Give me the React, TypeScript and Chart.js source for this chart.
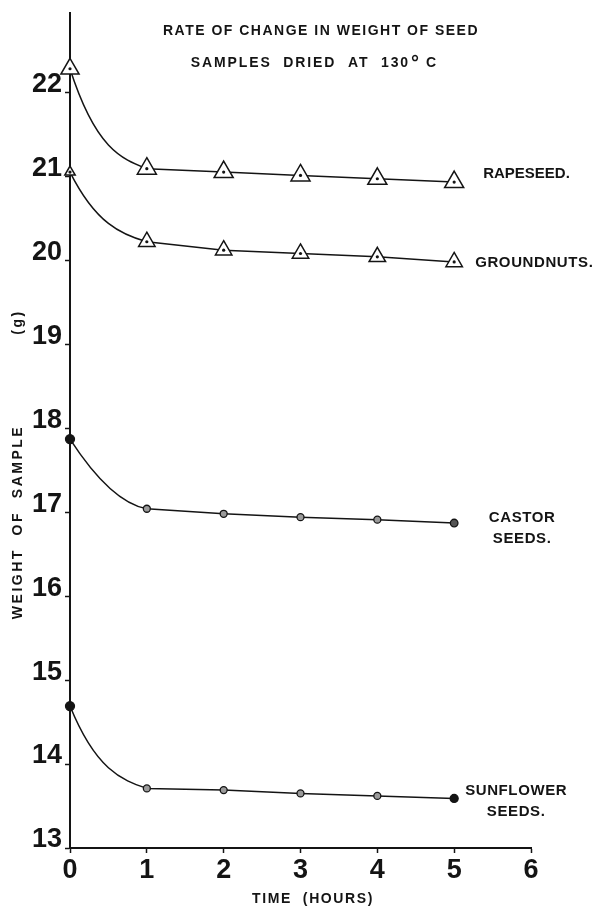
import React, { useEffect, useRef } from 'react';
import { Chart, registerables } from 'chart.js';

Chart.register(...registerables);

// ---- data ----
const hours = [0, 1, 2, 3, 4, 5];
const rapeseed = [22.28, 21.09, 21.05, 21.01, 20.97, 20.93];
const groundnuts = [21.05, 20.22, 20.12, 20.08, 20.04, 19.98];
const castorSeeds = [17.87, 17.04, 16.98, 16.94, 16.91, 16.87];
const sunflowerSeeds = [14.69, 13.71, 13.69, 13.65, 13.62, 13.59];

const xTickValues = [0, 1, 2, 3, 4, 5, 6];
const yTickValues = [13, 14, 15, 16, 17, 18, 19, 20, 21, 22];

const titleLine1 = 'RATE OF CHANGE IN WEIGHT OF SEED';
const titleLine2 = 'SAMPLES  DRIED  AT  130';
const titleDegree = '°';
const titleUnit = 'C';
const xAxisTitle = 'TIME  (HOURS)';
const yAxisTitle = 'WEIGHT  OF  SAMPLE';
const yAxisUnit = '(g)';

const seriesNames = ['RAPESEED.', 'GROUNDNUTS.', 'CASTOR\nSEEDS.', 'SUNFLOWER\nSEEDS.'];

const FONT = "'Liberation Sans', Arial, sans-serif";
const INK = '#141414';

const toPoints = (ys: number[]) => ys.map((y, i) => ({ x: hours[i], y }));

// Shapes the first (drying) segment as a decay curve, straight segments afterwards.
const decayCurvePlugin = {
  id: 'decayCurve',
  beforeDatasetsDraw(chart: any) {
    chart.data.datasets.forEach((ds: any, i: number) => {
      if (!ds.decay) return;
      const meta = chart.getDatasetMeta(i);
      const line = meta.dataset;
      if (!line || meta.hidden) return;
      line.updateControlPoints(chart.chartArea, meta.indexAxis);
      const pts = meta.data;
      pts.forEach((p: any) => {
        p.cp1x = p.x; p.cp1y = p.y; p.cp2x = p.x; p.cp2y = p.y;
      });
      if (pts.length > 1) {
        const [m0, m1] = ds.decay;
        const p0 = pts[0];
        const p1 = pts[1];
        const dx = p1.x - p0.x;
        const dy = p1.y - p0.y;
        p0.cp2x = p0.x + dx / 3;
        p0.cp2y = p0.y + (dy * m0) / 3;
        p1.cp1x = p1.x - dx / 3;
        p1.cp1y = p1.y - (dy * m1) / 3;
      }
      line._path = undefined;
    });
  },
};

// Title, series names and axis titles.
const textPlugin = {
  id: 'chartTexts',
  afterDraw(chart: any) {
    const ctx = chart.ctx as CanvasRenderingContext2D;
    ctx.save();
    ctx.fillStyle = INK;
    ctx.textBaseline = 'middle';

    // title
    ctx.font = `bold 14px ${FONT}`;
    (ctx as any).letterSpacing = '1.5px';
    ctx.textAlign = 'center';
    ctx.fillText(titleLine1, 321, 31);
    (ctx as any).letterSpacing = '1.9px';
    ctx.textAlign = 'right';
    ctx.fillText(titleLine2, 410, 63);
    ctx.textAlign = 'left';
    (ctx as any).letterSpacing = '0px';
    ctx.font = `bold 20px ${FONT}`;
    ctx.fillText(titleDegree, 411, 63);
    ctx.font = `bold 14px ${FONT}`;
    ctx.fillText(titleUnit, 426, 63);

    // series labels, placed next to the last point of each series
    const offsets = [
      { dx: 29, dy: -8, align: 'left', sp: '0px' },
      { dx: 21, dy: 1, align: 'left', sp: '0.6px' },
      { dx: 68, dy: -5, align: 'center', sp: '0.6px' },
      { dx: 62, dy: -8, align: 'center', sp: '0.6px' },
    ];
    const mainIdx = [1, 3, 4, 5];
    ctx.font = `bold 15px ${FONT}`;
    seriesNames.forEach((name, k) => {
      const meta = chart.getDatasetMeta(mainIdx[k]);
      const last = meta.data[meta.data.length - 1];
      if (!last) return;
      const o = offsets[k];
      (ctx as any).letterSpacing = o.sp;
      ctx.textAlign = o.align as CanvasTextAlign;
      name.split('\n').forEach((ln, j) => {
        ctx.fillText(ln, last.x + o.dx, last.y + o.dy + j * 21);
      });
    });

    // axis titles
    ctx.font = `bold 14px ${FONT}`;
    (ctx as any).letterSpacing = '1.6px';
    ctx.textAlign = 'center';
    ctx.fillText(xAxisTitle, 313, 899);

    (ctx as any).letterSpacing = '2.5px';
    ctx.translate(18, 0);
    ctx.rotate(-Math.PI / 2);
    ctx.fillText(yAxisTitle, -522, 0);
    ctx.fillText(yAxisUnit, -322, 0);
    ctx.restore();
  },
};

export default function App() {
  const canvasRef = useRef<HTMLCanvasElement | null>(null);

  useEffect(() => {
    if (!canvasRef.current) return;
    const triangleBase = {
      type: 'line' as const,
      borderColor: INK,
      borderWidth: 1.5,
      pointStyle: 'triangle',
      pointBackgroundColor: '#ffffff',
      pointBorderColor: INK,
      pointBorderWidth: 1.5,
      tension: 0.4,
      fill: false,
      clip: false as const,
      order: 1,
    };
    const dotBase = {
      type: 'line' as const,
      showLine: false,
      pointRadius: 1.6,
      pointBackgroundColor: INK,
      pointBorderWidth: 0,
      clip: false as const,
      order: 0,
    };
    const chart = new Chart(canvasRef.current, {
      type: 'line',
      data: {
        datasets: [
          { ...dotBase, label: 'rapeseed centres', data: toPoints(rapeseed) } as any,
          {
            ...triangleBase,
            label: 'Rapeseed',
            data: toPoints(rapeseed),
            pointRadius: [10.5, 11, 11, 11, 11, 11],
            decay: [2.4, 0.3],
          } as any,
          { ...dotBase, label: 'groundnut centres', data: toPoints(groundnuts) } as any,
          {
            ...triangleBase,
            label: 'Groundnuts',
            data: toPoints(groundnuts),
            pointRadius: [6, 9.5, 9.5, 9.5, 9.5, 9.5],
            decay: [2.2, 0.3],
          } as any,
          {
            type: 'line',
            label: 'Castor seeds',
            data: toPoints(castorSeeds),
            borderColor: INK,
            borderWidth: 1.5,
            pointStyle: 'circle',
            pointRadius: [4.5, 3.5, 3.5, 3.5, 3.5, 3.8],
            pointBackgroundColor: [INK, '#9a9a9a', '#9a9a9a', '#9a9a9a', '#9a9a9a', '#555'],
            pointBorderColor: INK,
            pointBorderWidth: 1.3,
            tension: 0.4,
            clip: false,
            order: 1,
            decay: [1.7, 0.2],
          } as any,
          {
            type: 'line',
            label: 'Sunflower seeds',
            data: toPoints(sunflowerSeeds),
            borderColor: INK,
            borderWidth: 1.5,
            pointStyle: 'circle',
            pointRadius: [4.5, 3.5, 3.5, 3.5, 3.5, 4],
            pointBackgroundColor: [INK, '#9a9a9a', '#9a9a9a', '#9a9a9a', '#9a9a9a', INK],
            pointBorderColor: INK,
            pointBorderWidth: 1.3,
            tension: 0.4,
            clip: false,
            order: 1,
            decay: [2.3, 0.3],
          } as any,
        ],
      },
      options: {
        animation: false,
        responsive: true,
        maintainAspectRatio: false,
        devicePixelRatio: 1,
        layout: { padding: { top: 8, right: 67, left: 0, bottom: 0 } },
        plugins: {
          legend: { display: false },
          tooltip: { enabled: false },
          title: { display: false },
        },
        scales: {
          x: {
            type: 'linear',
            min: 0,
            max: 6,
            afterBuildTicks: (s: any) => {
              s.ticks = xTickValues.map((v) => ({ value: v }));
            },
            afterFit: (s: any) => {
              s.height = 63;
              s.paddingLeft = 0;
              s.paddingRight = 0;
            },
            grid: {
              display: true,
              drawOnChartArea: false,
              drawTicks: true,
              tickLength: 5,
              tickColor: INK,
              tickWidth: 1.5,
            },
            border: { display: true, color: INK, width: 2 },
            ticks: {
              color: INK,
              font: { family: FONT, size: 27, weight: 'bold' },
              padding: 1,
              maxRotation: 0,
              autoSkip: false,
            },
          },
          y: {
            type: 'linear',
            min: 13,
            max: 22.95,
            afterBuildTicks: (s: any) => {
              s.ticks = yTickValues.map((v) => ({ value: v }));
            },
            afterFit: (s: any) => {
              s.width = 70;
              s.paddingTop = 0;
              s.paddingBottom = 0;
            },
            grid: {
              display: true,
              drawOnChartArea: false,
              drawTicks: true,
              tickLength: 5,
              tickColor: INK,
              tickWidth: 1.5,
            },
            border: { display: true, color: INK, width: 2 },
            ticks: {
              color: INK,
              font: { family: FONT, size: 27, weight: 'bold' },
              padding: 3,
              labelOffset: -8,
              autoSkip: false,
            },
          },
        },
      },
      plugins: [decayCurvePlugin, textPlugin],
    } as any);
    return () => chart.destroy();
  }, []);

  return (
    <div style={{ position: 'fixed', left: 0, top: 0, width: 598, height: 911, background: '#fff' }}>
      <canvas ref={canvasRef} />
    </div>
  );
}
